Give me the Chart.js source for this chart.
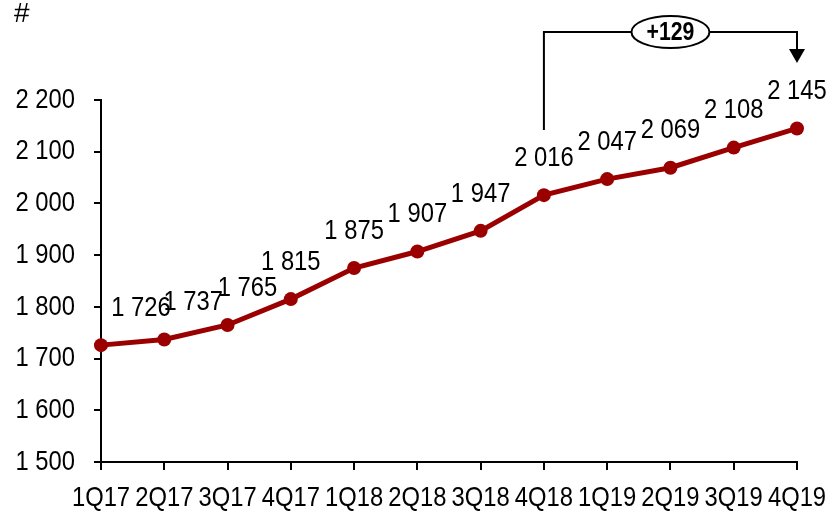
<!DOCTYPE html>
<html>
<head>
<meta charset="utf-8">
<script src="https://cdn.jsdelivr.net/npm/chart.js@4/dist/chart.umd.min.js"></script>
<style>
    html, body { margin:0; padding:0; background:#fff; }
    #wrap { width:827px; height:511px; }
</style>
</head>
<body>
<div id="wrap"><canvas id="lineChart"></canvas></div>
<script>
const quarters = ['1Q17','2Q17','3Q17','4Q17','1Q18','2Q18','3Q18','4Q18','1Q19','2Q19','3Q19','4Q19'];
const counts = [1726, 1737, 1765, 1815, 1875, 1907, 1947, 2016, 2047, 2069, 2108, 2145];
const yTicks = [1500, 1600, 1700, 1800, 1900, 2000, 2100, 2200];
const unitLabel = '#';
const deltaLabel = '+129';

const FONT = '"Liberation Sans", Arial, sans-serif';
const RED = 'rgb(155,0,0)';
const NARROW = 0.85; // no Arial Narrow here, so squeeze the text

function fmt(v){
    return String(v).replace(/\B(?=(\d{3})+(?!\d))/g, ' ');
}

function narrowText(ctx, txt, x, y){
    ctx.save();
    ctx.translate(x, y);
    ctx.scale(NARROW, 1);
    ctx.fillText(txt, 0, 0);
    ctx.restore();
}

// axis labels + value labels, all in the narrow look
const textLayer = {
    id: 'textLayer',
    afterDatasetsDraw(chart){
        const ctx = chart.ctx;
        const xs = chart.scales.x;
        const ys = chart.scales.y;
        const meta = chart.getDatasetMeta(0);
        const shift = [40, 29, 20];
        ctx.save();
        ctx.font = '28px ' + FONT;
        ctx.fillStyle = '#000';
        ctx.textBaseline = 'middle';

        ctx.textAlign = 'right';
        yTicks.forEach(v => narrowText(ctx, fmt(v), 75, ys.getPixelForValue(v)));

        ctx.textAlign = 'center';
        quarters.forEach((q, i) => narrowText(ctx, q, xs.getPixelForValue(i), 498));

        meta.data.forEach((pt, i) => {
            narrowText(ctx, fmt(counts[i]), pt.x + (shift[i] || 0), pt.y - 37);
        });
        ctx.restore();
    }
};

// "#" unit and the +129 bracket
const extras = {
    id: 'extras',
    afterDraw(chart){
        const ctx = chart.ctx;
        const x = chart.scales.x;
        const x1 = x.getPixelForValue(7);
        const x2 = x.getPixelForValue(11);
        const top = 32;
        ctx.save();
        ctx.fillStyle = '#000';
        ctx.font = '28px ' + FONT;
        ctx.textAlign = 'left';
        ctx.textBaseline = 'middle';
        ctx.fillText(unitLabel, 14, 14);

        ctx.strokeStyle = '#000';
        ctx.lineWidth = 2;
        ctx.beginPath();
        ctx.moveTo(x1, 130);
        ctx.lineTo(x1, top);
        ctx.lineTo(x2, top);
        ctx.lineTo(x2, 50);
        ctx.stroke();
        ctx.beginPath();
        ctx.moveTo(x2 - 8, 49);
        ctx.lineTo(x2 + 8, 49);
        ctx.lineTo(x2, 63);
        ctx.closePath();
        ctx.fill();

        const cx = (x1 + x2) / 2;
        ctx.beginPath();
        ctx.ellipse(cx, top, 39, 16, 0, 0, Math.PI * 2);
        ctx.fillStyle = '#fff';
        ctx.fill();
        ctx.stroke();
        ctx.fillStyle = '#000';
        ctx.font = 'bold 25px ' + FONT;
        ctx.textAlign = 'center';
        narrowText(ctx, deltaLabel, cx, top + 1);
        ctx.restore();
    }
};

const ctx1 = document.getElementById('lineChart').getContext('2d');
const chart1 = new Chart(ctx1, {
    type: 'line',
    data: {
        labels: quarters,
        datasets: [{
            data: counts,
            borderColor: RED,
            backgroundColor: RED,
            borderWidth: 5,
            pointRadius: 7,
            pointBackgroundColor: RED,
            pointBorderWidth: 0,
            tension: 0
        }]
    },
    options: {
        responsive: true,
        maintainAspectRatio: false,
        animation: false,
        layout: { padding: { top: 100, right: 30, left: 0, bottom: 0 } },
        plugins: {
            legend: { display: false },
            tooltip: { enabled: false }
        },
        scales: {
            x: {
                offset: false,
                afterFit(s){ s.height = 49; },
                grid: { display: true, drawOnChartArea: false, tickLength: 8, color: '#000', lineWidth: 2 },
                border: { color: '#000', width: 2 },
                ticks: { display: false, autoSkip: false }
            },
            y: {
                min: 1500,
                max: 2200,
                afterFit(s){ s.width = 101; },
                afterBuildTicks(s){ s.ticks = yTicks.map(v => ({ value: v })); },
                grid: { display: true, drawOnChartArea: false, tickLength: 7, color: '#000', lineWidth: 2 },
                border: { color: '#000', width: 2 },
                ticks: { display: false }
            }
        }
    },
    plugins: [textLayer, extras]
});
</script>
</body>
</html>
